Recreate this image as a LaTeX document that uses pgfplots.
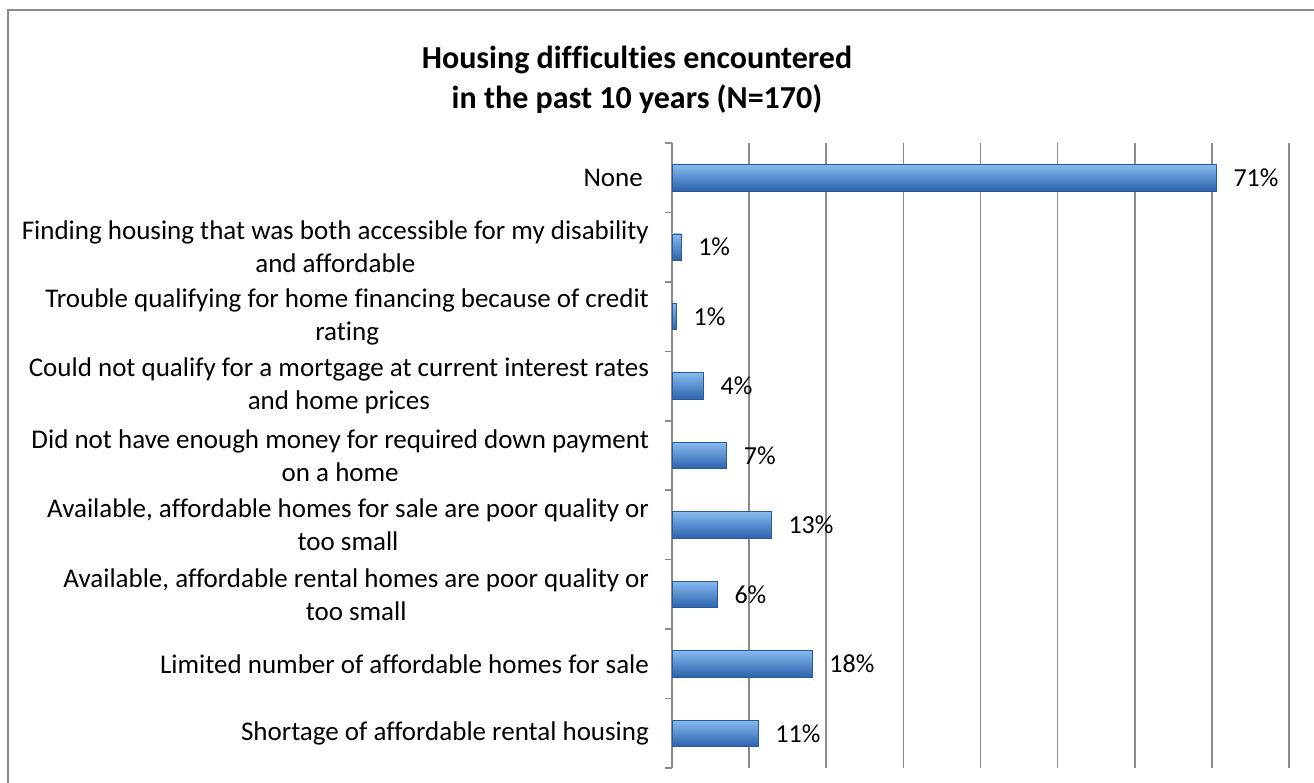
\documentclass[border=0pt]{standalone}
\usepackage{fontspec}
\setmainfont{Carlito}[Ligatures=NoCommon]
\usepackage{pgfplots}
\pgfplotsset{compat=1.18}
\definecolor{gridgray}{HTML}{8C8C8C}
\definecolor{barTop}{HTML}{86BAF0}
\definecolor{barMid}{HTML}{4A8AD8}
\definecolor{barBot}{HTML}{2C62AC}
\definecolor{barEdge}{HTML}{2A5A98}

\begin{document}
\begin{tikzpicture}
% chart frame
\draw[draw=gridgray, line width=1pt] (4pt,-10pt) rectangle (670pt,386.5pt);
% title
\node[font=\bfseries\fontsize{16}{20}\selectfont, align=center] at (318.5pt,351.5pt)
  {Housing difficulties encountered\\in the past 10 years (N=170)};
\begin{axis}[
    at={(336pt,7.5pt)}, anchor=south west,
    scale only axis,
    width=308.5pt, height=312.5pt,
    xbar, bar width=0.38, bar shift=0pt,
    xmin=0, xmax=80, ymin=-0.5, ymax=8.5,
    y dir=reverse,
    axis lines*=left,
    x axis line style={draw=none},
    y axis line style={draw=gridgray, line width=0.8pt, -},
    major tick length=0pt,
    xtick={0,10,...,80}, xticklabels={},
    xmajorgrids,
    grid style={draw=gridgray, line width=0.8pt},
    ytick={0,...,8},
    yticklabels={
      {None\ },
      {Finding housing that was both accessible for my disability\\and affordable},
      {Trouble qualifying for home financing because of credit\\rating},
      {Could not qualify for a mortgage at current interest rates\\and home prices},
      {Did not have enough money for required down payment\\on a home},
      {Available, affordable homes for sale are poor quality or\\too small},
      {Available, affordable rental homes are poor quality or\\too small},
      {Limited number of affordable homes for sale},
      {Shortage of affordable rental housing}},
    yticklabel style={align=center, font=\fontsize{13.5}{16.5}\selectfont, xshift=-8pt},
    extra y ticks={-0.5,0.5,...,8.5},
    extra y tick labels={},
    extra y tick style={major tick length=3.5pt, tick align=outside,
        tick style={draw=gridgray, line width=0.8pt}},
    /pgf/number format/assume math mode=true,
    nodes near coords={\pgfmathprintnumber[fixed,precision=0]{\pgfplotspointmeta}\%},
    nodes near coords style={font=\fontsize{13}{16}\selectfont, text=black, anchor=west, xshift=5pt},
    hbar/.style={draw=barEdge, line width=0.4pt, top color=barTop, middle color=barMid, bottom color=barBot},
]
% one plot per bar so that each bar gets its own gradient
\addplot[hbar] coordinates {(70.6,0)};
\addplot[hbar] coordinates {(1.2,1)};
\addplot[hbar] coordinates {(0.6,2)};
\addplot[hbar] coordinates {(4.1,3)};
\addplot[hbar] coordinates {(7.1,4)};
\addplot[hbar] coordinates {(12.9,5)};
\addplot[hbar] coordinates {(5.9,6)};
\addplot[hbar] coordinates {(18.2,7)};
\addplot[hbar] coordinates {(11.2,8)};
\end{axis}
\pgfresetboundingbox
\path[use as bounding box] (0pt,0pt) rectangle (657pt,391.5pt);
\end{tikzpicture}
\end{document}
